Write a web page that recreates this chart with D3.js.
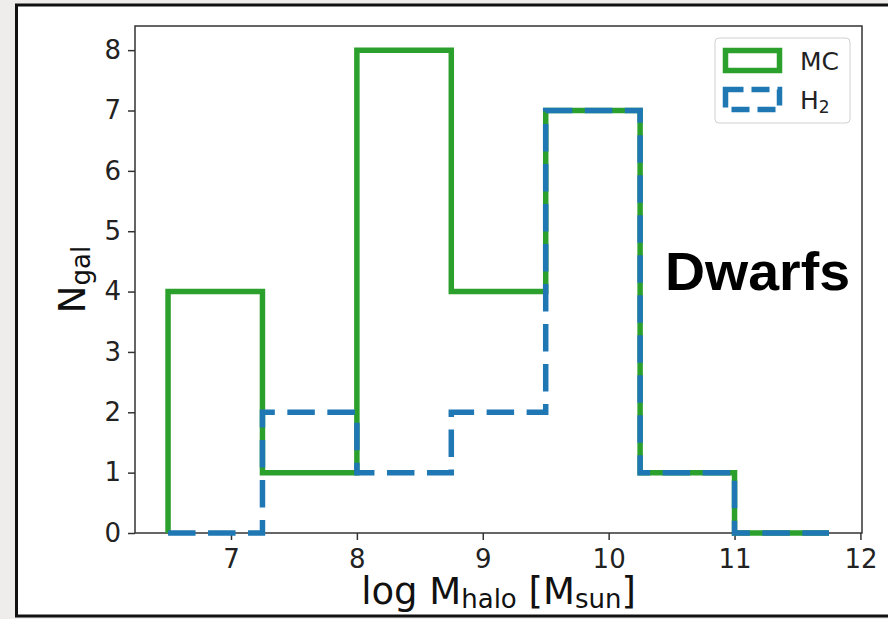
<!DOCTYPE html>
<html><head><meta charset="utf-8">
<script src="https://cdn.jsdelivr.net/npm/d3@7"></script>
<style>
html,body{margin:0;padding:0;background:#eeedeb;}
svg{display:block;}
</style></head>
<body>
<svg id="chart" width="888" height="619"></svg>
<script>
// ---- data ----
const binEdges = [6.5, 7.25, 8, 8.75, 9.5, 10.25, 11, 11.75];
const mcCounts = [4, 1, 8, 4, 7, 1, 0];
const h2Counts = [0, 2, 1, 2, 7, 1, 0];
const xTicks = [7, 8, 9, 10, 11, 12];
const yTicks = [0, 1, 2, 3, 4, 5, 6, 7, 8];
const seriesNames = ["MC", "H2"];

const svg = d3.select("#chart");
// panel
svg.append("rect").attr("x", 16.5).attr("y", 5).attr("width", 880).attr("height", 611)
  .attr("fill", "#fff").attr("stroke", "#111").attr("stroke-width", 3);

const L = 135, R = 862, T = 26, B = 533;
const x = d3.scaleLinear().domain([6.2375, 12.0125]).range([L, R]);
const y = d3.scaleLinear().domain([0, 8.4]).range([B, T]);

const tickFont = "DejaVu Sans, sans-serif";

// axes
const gx = svg.append("g").attr("transform", `translate(0,${B})`)
  .call(d3.axisBottom(x).tickValues(xTicks).tickSize(7).tickPadding(6).tickFormat(d3.format("d")));
const gy = svg.append("g").attr("transform", `translate(${L},0)`)
  .call(d3.axisLeft(y).tickValues(yTicks).tickSize(7).tickPadding(7).tickFormat(d3.format("d")));
[gx, gy].forEach(g => {
  g.select(".domain").remove();
  g.selectAll(".tick line").attr("stroke", "#333").attr("stroke-width", 1.5);
  g.selectAll(".tick text").attr("font-family", tickFont).attr("font-size", 26).attr("fill", "#222");
});
gx.selectAll(".tick text").attr("dy", "0.85em");
// spines
svg.append("rect").attr("x", L).attr("y", T).attr("width", R - L).attr("height", B - T)
  .attr("fill", "none").attr("stroke", "#333").attr("stroke-width", 1.5);

function stepPoints(counts) {
  const pts = [[binEdges[0], 0]];
  counts.forEach((c, i) => { pts.push([binEdges[i], c]); pts.push([binEdges[i + 1], c]); });
  pts.push([binEdges[binEdges.length - 1], 0]);
  return pts;
}
const line = d3.line().x(d => x(d[0])).y(d => y(d[1]));

svg.append("path").attr("d", line(stepPoints(mcCounts)))
  .attr("fill", "none").attr("stroke", "#2ca02c").attr("stroke-width", 5.5)
  .attr("stroke-linejoin", "miter").attr("stroke-linecap", "butt");
svg.append("path").attr("d", line(stepPoints(h2Counts)))
  .attr("fill", "none").attr("stroke", "#1f77b4").attr("stroke-width", 5.5)
  .attr("stroke-dasharray", "27.5,12.5").attr("stroke-linejoin", "miter").attr("stroke-linecap", "butt");

// axis labels
const xl = svg.append("text").attr("x", (L + R) / 2).attr("y", 604).attr("text-anchor", "middle")
  .attr("font-family", tickFont).attr("font-size", 37).attr("fill", "#111");
xl.append("tspan").text("log M");
xl.append("tspan").attr("font-size", 26).attr("dy", 4).text("halo");
xl.append("tspan").attr("dy", -4).text(" [M");
xl.append("tspan").attr("font-size", 26).attr("dy", 4).text("sun");
xl.append("tspan").attr("dy", -4).text("]");

const yl = svg.append("text").attr("transform", `translate(85,${(T + B) / 2}) rotate(-90)`)
  .attr("text-anchor", "middle").attr("font-family", tickFont).attr("font-size", 37).attr("fill", "#111");
yl.append("tspan").text("N");
yl.append("tspan").attr("font-size", 26).attr("dy", 5).text("gal");

// Dwarfs annotation
svg.append("text").attr("x", 665).attr("y", 290).attr("font-family", "Liberation Sans, Arial, sans-serif")
  .attr("font-weight", "bold").attr("font-size", 53).attr("fill", "#000")
  .attr("textLength", 185).attr("lengthAdjust", "spacingAndGlyphs").text("Dwarfs");

// legend
const lg = svg.append("g");
lg.append("rect").attr("x", 715).attr("y", 38).attr("width", 135).attr("height", 85).attr("rx", 4)
  .attr("fill", "#fff").attr("fill-opacity", 0.8).attr("stroke", "#d0d0d0").attr("stroke-width", 1);
const legendStyles = [
  {color: "#2ca02c", dash: null, y: 48},
  {color: "#1f77b4", dash: "18,8", y: 87}
];
seriesNames.forEach((name, i) => {
  const s = legendStyles[i];
  const r = lg.append("rect").attr("x", 725.5).attr("y", s.y + 2.5).attr("width", 54).attr("height", 20)
    .attr("fill", "none").attr("stroke", s.color).attr("stroke-width", 5.5);
  if (s.dash) r.attr("stroke-dasharray", s.dash).attr("stroke-dashoffset", 0);
  const t = lg.append("text").attr("x", 800).attr("y", s.y + 22).attr("font-family", tickFont)
    .attr("font-size", 25).attr("fill", "#222");
  if (name === "H2") {
    t.append("tspan").text("H");
    t.append("tspan").attr("font-size", 17).attr("dy", 4).text("2");
  } else {
    t.text(name);
  }
});
</script>
</body></html>
